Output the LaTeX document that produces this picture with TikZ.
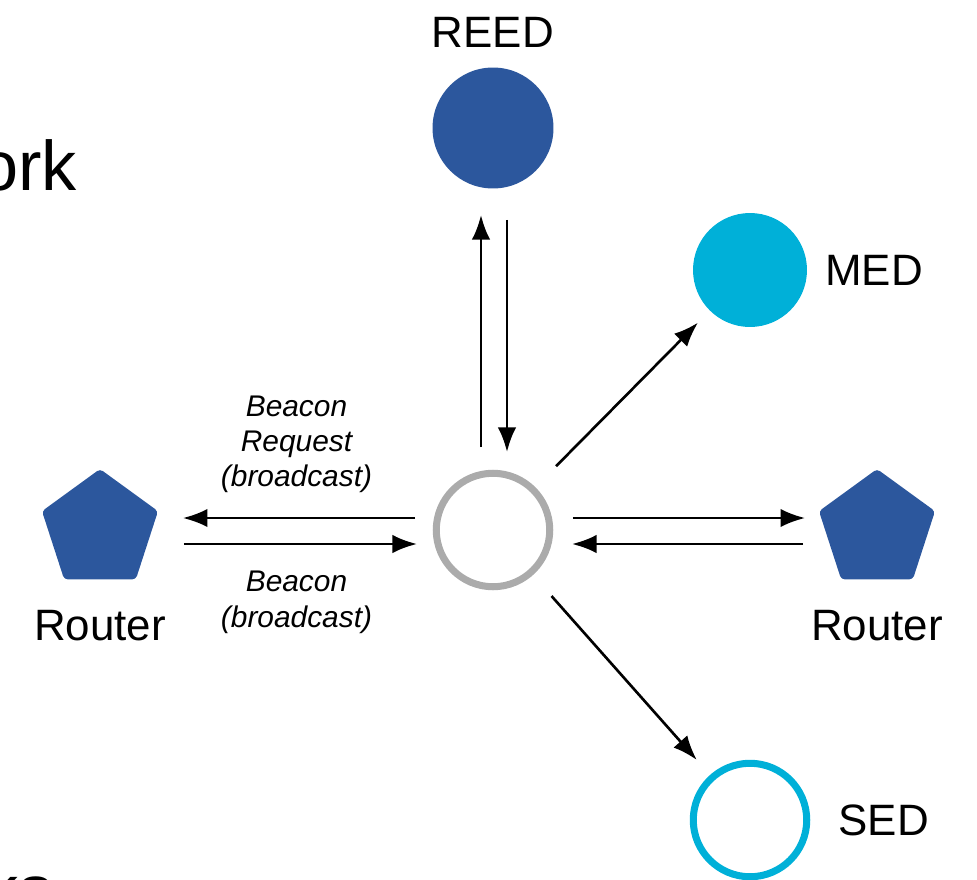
\documentclass[tikz,border=0pt]{standalone}
\usepackage{fontspec}
\setmainfont{Liberation Sans}
\usetikzlibrary{calc,positioning,arrows.meta,shapes.geometric}
\definecolor{devblue}{RGB}{44,87,157}
\definecolor{devcyan}{RGB}{0,176,216}
\definecolor{hubgray}{RGB}{171,171,171}
\tikzset{
devfull/.style={
  circle,
  fill=#1,
  inner sep=0pt,
  outer sep=0pt,
  minimum size=2.42cm
  },
devring/.style={
  circle,
  draw=#1,
  line width=4pt,
  inner sep=0pt,
  outer sep=0pt,
  minimum size=2.27cm
  },
router/.style={
  regular polygon,
  regular polygon sides=5,
  fill=devblue,
  rounded corners=2pt,
  inner sep=0pt,
  outer sep=0pt,
  minimum size=2.44cm
  },
devlbl/.style={
  font=\fontsize{25pt}{30pt}\selectfont,
  inner sep=0pt
  },
msglbl/.style={
  font=\fontsize{17pt}{20pt}\selectfont\itshape,
  align=center,
  inner sep=0pt
  },
msg/.style={
  ->,
  line width=1.5pt
  }
}

\begin{document}
\begin{tikzpicture}[x=0.02cm,y=-0.02cm,>={Latex[length=14pt,width=10.5pt]}]
    \useasboundingbox (0,0) rectangle (977,879);
    % devices
    \node[devring=hubgray] (hub) at (493,530) {};
    \node[devfull=devblue] (reed) at (493,128) {};
    \node[devfull=devcyan,minimum size=2.28cm] (med) at (750,270) {};
    \node[devring=devcyan] (sed) at (750,820) {};
    \node[router] (rl) at (100,530) {};
    \node[router] (rr) at (877,530) {};
    % device labels
    \node[devlbl,above=0.4cm of reed] (reedlbl) {REED};
    \node[devlbl,right=0.36cm of med] (medlbl) {MED};
    \node[devlbl,right=0.63cm of sed] (sedlbl) {SED};
    \node[devlbl,below=0.61cm of rl] (rllbl) {Router};
    \node[devlbl,below=0.61cm of rr] (rrlbl) {Router};
    % message labels
    \node[msglbl,above=0.74cm] (reqlbl) at ($(rl)!0.5!(hub)$) {Beacon\\Request\\(broadcast)};
    \node[msglbl,below=0.82cm] (beaconlbl) at ($(rl)!0.5!(hub)$) {Beacon\\(broadcast)};
    % slide text cut off at the edges
    \node[anchor=base east,font=\fontsize{40pt}{48pt}\selectfont,inner sep=0pt] (titlecut) at (77,190) {ork};
    \node[anchor=base east,font=\fontsize{40pt}{48pt}\selectfont,inner sep=0pt] (bottomcut) at (54,914) {ks};
    % messages
    \draw[msg,transform canvas={yshift=0.24cm},shorten <=0.425cm,shorten >=0.62cm] (hub) -- (rl);
    \draw[msg,transform canvas={yshift=-0.28cm},shorten <=0.64cm,shorten >=0.385cm] (rl) -- (hub);
    \draw[msg,transform canvas={yshift=0.24cm},shorten <=0.465cm,shorten >=0.4cm] (hub) -- (rr);
    \draw[msg,transform canvas={yshift=-0.28cm},shorten <=0.44cm,shorten >=0.445cm] (rr) -- (hub);
    \draw[msg,transform canvas={xshift=-0.24cm},shorten <=0.525cm,shorten >=0.53cm] (hub) -- (reed);
    \draw[msg,transform canvas={xshift=0.28cm},shorten <=0.63cm,shorten >=0.425cm] (reed) -- (hub);
    \draw[msg,shorten <=0.66cm,shorten >=0.34cm] (hub) -- (med);
    \draw[msg,shorten <=0.63cm,shorten >=0.47cm] (hub) -- (sed);
\end{tikzpicture}
\end{document}
